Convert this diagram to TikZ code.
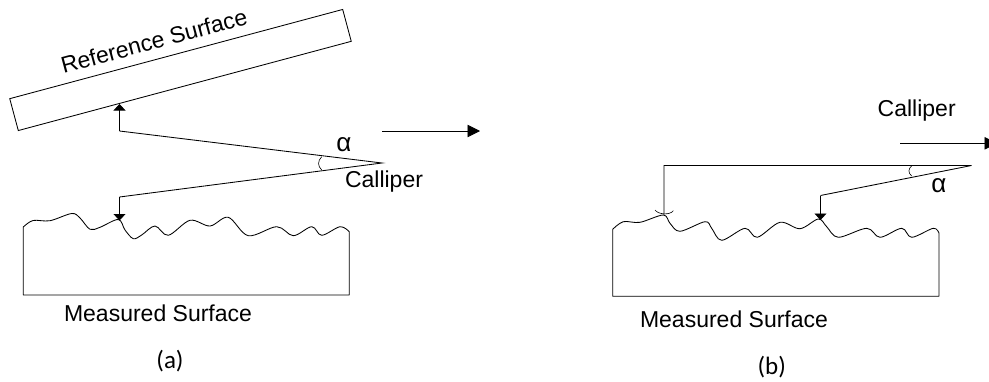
\documentclass[tikz,border=0pt]{standalone}
\usepackage{fontspec}
\setmainfont{Liberation Sans}
\newfontfamily\capfont{Carlito}
\usetikzlibrary{arrows.meta}
\tikzset{
  line/.style={draw=black,line width=0.85pt,line join=miter},
  thin line/.style={draw=black,line width=0.6pt},
  probe/.style={line,-{Triangle[length=6.5pt,width=12pt]}},
  motion/.style={line,-{Triangle[length=12.5pt,width=12.5pt]}},
  label/.style={inner sep=0pt,font=\fontsize{23}{26}\selectfont},
  greek/.style={inner sep=0pt,font=\fontsize{26}{28}\selectfont},
  caption/.style={inner sep=0pt,font=\capfont\fontsize{25}{28}\selectfont},
}
\begin{document}
\begin{tikzpicture}[x=1pt,y=-1pt]
\useasboundingbox (0,0) rectangle (989,381);

% ---- (a) ----
\node[line,rotate=15,minimum width=344.7pt,minimum height=33pt,inner sep=0pt] (ref) at (180.5,70) {};
\node[label,rotate=15] (reflabel) at (154,41) {Reference Surface};
\coordinate (aV) at (382,163);
\coordinate (aU) at (119.5,131);
\coordinate (aUtip) at (119.5,104);
\coordinate (aL) at (119.5,197);
\coordinate (aLtip) at (119.5,220.5);
\draw[line] (aU) -- (aV) -- (aL);
\draw[probe] (aU) -- (aUtip);
\draw[probe] (aL) -- (aLtip);
\draw[thin line] (321.7,156.7) .. controls (317.5,161) and (317.5,166) .. (321.7,170);
\node[greek] (aalpha) at (344,145) {α};
\node[label] (acal) at (384,182) {Calliper};
\coordinate (aMs) at (382,131);
\coordinate (aMe) at (480,131);
\draw[motion] (aMs) -- (aMe);
\draw[line,line join=round] (23.3,295)
  -- plot[smooth,tension=0.55] coordinates {(23.3,227) (33,220.5) (50,220.7) (71.7,213.5) (80,218) (90,229.3) (100,227.3) (118.3,219.5) (125,230) (133.3,238.7) (141.7,235) (155,226) (168.3,235.3) (190,220.3) (210,226) (228.3,217.3) (248.3,235.7) (276.7,226.7) (293.3,235.7) (311.7,226.7) (321.7,235.3) (340,226.7) (349.3,231.7)}
  -- (349.3,295) -- cycle;
\node[label] (ams) at (158,313) {Measured Surface};
\node[caption] (acap) at (170,361) {(a)};

% ---- (b) ----
\coordinate (bV) at (971.5,165.5);
\coordinate (bU) at (664,165.5);
\coordinate (bUend) at (664,215);
\coordinate (bL) at (820.5,195.5);
\coordinate (bLtip) at (820.5,220);
\draw[line] (bUend) -- (bU) -- (bV) -- (bL);
\draw[probe] (bL) -- (bLtip);
\draw[thin line] (911.7,165.8) .. controls (908,169) and (908,173) .. (911.7,176);
\draw[thin line] (655,210) .. controls (658,214.5) and (670,215.5) .. (673.3,210.7);
\node[greek] (balpha) at (939,186) {α};
\node[label] (bcal) at (916.7,111) {Calliper};
\coordinate (bMs) at (900,143.3);
\coordinate (bMe) at (997,143.3);
\draw[motion] (bMs) -- (bMe);
\draw[line,line join=round] (612.7,296.3)
  -- plot[smooth,tension=0.55] coordinates {(612.7,229.3) (623.3,221.7) (640,222.3) (663.3,215) (670,223.3) (680,231.3) (705,221.7) (711.7,228.3) (721.7,240.3) (745,228.3) (757.3,237.3) (780,222.3) (800,228.7) (818.3,219) (826.7,226.7) (838.3,237.3) (866.7,228.3) (880,237.3) (901.7,228.3) (911.7,237.3) (933.3,228.3) (939,233.3)}
  -- (939,296.3) -- cycle;
\node[label] (bms) at (734,319) {Measured Surface};
\node[caption] (bcap) at (771.7,367) {(b)};
\end{tikzpicture}
\end{document}
